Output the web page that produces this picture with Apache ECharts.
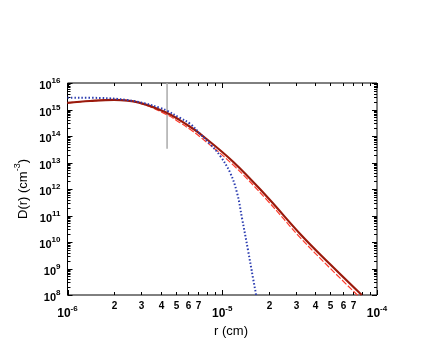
<!DOCTYPE html>
<html>
<head>
<meta charset="utf-8">
<script src="https://cdn.jsdelivr.net/npm/echarts@6.0.0/dist/echarts.min.js"></script>
<style>
  html, body { margin: 0; padding: 0; background: #fff; }
  #main { width: 448px; height: 346px; }
</style>
</head>
<body>
<div id="main"></div>
<script>
// 半径 r (cm) 与 D(r) (cm^-3)
const rSolid = [1e-6, 1.4e-6, 2.0e-6, 2.9e-6, 4.4e-6, 5.34e-6, 6.19e-6, 7.19e-6, 1.175e-5, 1.94e-5, 3.21e-5, 4.98e-5, 7.97e-5]
const dSolid = [1.78e15, 2.09e15, 2.29e15, 1.82e15, 7.4e14, 3.9e14, 2.24e14, 1.21e14, 1.07e13, 5.2e11, 1.93e10, 1.44e9, 1.0e8]
// 细红虚线
const dThin = [1.78e15, 2.09e15, 2.29e15, 1.78e15, 6.3e14, 3.16e14, 1.78e14, 9.3e13, 8.1e12, 3.9e11, 1.41e10, 1.02e9, 6.9e7]
// 蓝色点线
const rDot = [1e-6, 1.62e-6, 2.42e-6, 3.17e-6, 3.96e-6, 4.4e-6, 5.34e-6, 6.19e-6, 7.19e-6, 8.34e-6, 9.68e-6, 1.123e-5, 1.246e-5, 1.343e-5, 1.468e-5, 1.581e-5, 1.654e-5, 1.72e-5]
const dDot = [2.8e15, 2.73e15, 2.29e15, 1.7e15, 1.15e15, 8.9e14, 4.8e14, 2.9e14, 1.21e14, 5.0e13, 1.8e13, 4.2e12, 7.2e11, 7.7e10, 4.8e9, 4.3e8, 1.0e8, 2e7]
// 灰色竖线
const rMark = [4.4e-6, 4.4e-6]
const dMark = [1e16, 3.3e13]
// 刻度
const xDecades = [-6, -5, -4]
const xMinorLabels = [2, 3, 4, 5, 6, 7]
const yDecades = [8, 9, 10, 11, 12, 13, 14, 15, 16]

const FONT = 'Liberation Sans, Arial, sans-serif'
const chart = echarts.init(document.getElementById('main'))

let lineSeries = (r, d, color, width, type, z) => ({
  type: 'line',
  data: r.map((v, i) => [v, d[i]]),
  symbol: 'none',
  smooth: 0.4,
  clip: true,
  z: z,
  lineStyle: { color: color, width: width, type: type }
})

let hiddenAxis = {
  axisLine: { show: false },
  axisTick: { show: false },
  axisLabel: { show: false },
  splitLine: { show: false }
}

chart.setOption({
  animation: false,
  grid: { left: 67.5, right: 71, top: 83, bottom: 51, show: true, borderColor: '#000', borderWidth: 1 },
  xAxis: Object.assign({ type: 'log', logBase: 10, min: 1e-6, max: 1e-4 }, hiddenAxis),
  yAxis: Object.assign({ type: 'log', logBase: 10, min: 1e8, max: 1e16 }, hiddenAxis),
  series: [
    Object.assign(lineSeries(rMark, dMark, '#aaaaaa', 1.5, 'solid', 1), { smooth: false }),
    lineSeries(rSolid, dThin, '#ff3b2b', 1.2, [6, 2], 2),
    lineSeries(rSolid, dSolid, '#9a1a0c', 2.2, 'solid', 3),
    lineSeries(rDot, dDot, '#2b3cb0', 2, [1.5, 2], 4)
  ]
})

// 刻度和标签
const ctx = document.createElement('canvas').getContext('2d')
let textW = (s, font) => { ctx.font = font; return ctx.measureText(s).width }
let px = v => chart.convertToPixel({ xAxisIndex: 0 }, v)
let py = v => chart.convertToPixel({ yAxisIndex: 0 }, v)
let gLeft = px(1e-6), gRight = px(1e-4), gTop = py(1e16), gBottom = py(1e8)
let g = []
let tick = (x1, y1, x2, y2) => g.push({
  type: 'line', silent: true,
  shape: { x1: x1, y1: y1, x2: x2, y2: y2 },
  style: { stroke: '#000', lineWidth: 1 }
})
let text = (s, x, y, size, align, weight) => g.push({
  type: 'text', silent: true,
  style: { text: s, x: x, y: y, font: (weight || 'bold') + ' ' + size + 'px ' + FONT, fill: '#000', align: align, verticalAlign: 'middle' }
})
// 10^n 标签
let supLabel = (exp, x, y, size, expSize, align) => {
  let w1 = textW('10', 'bold ' + size + 'px ' + FONT)
  let w2 = textW(exp, 'bold ' + expSize + 'px ' + FONT)
  let x0 = align == 'center' ? x - (w1 + w2) / 2 : x - w1 - w2
  text('10', x0, y, size, 'left')
  text(exp, x0 + w1, y - size * 0.45, expSize, 'left')
}

for (let e = -6; e <= -4; e++) {
  for (let k = 1; k <= 9; k++) {
    let v = k * Math.pow(10, e)
    if (v > 1.0001e-4) break
    let x = Math.round(px(v)) + 0.5
    let len = k == 1 ? 5 : 3
    tick(x, gBottom, x, gBottom - len)
    tick(x, gTop, x, gTop + len)
    if (xMinorLabels.indexOf(k) >= 0) text(String(k), x, gBottom + 11, 10, 'center')
  }
}
xDecades.forEach(e => supLabel(String(e), px(Math.pow(10, e)), gBottom + 19, 12, 8, 'center'))

for (let e = 8; e <= 16; e++) {
  for (let k = 1; k <= 9; k++) {
    let v = k * Math.pow(10, e)
    if (v > 1.0001e16) break
    let y = Math.round(py(v)) + 0.5
    let len = k == 1 ? 5 : 3
    tick(gLeft, y, gLeft + len, y)
    tick(gRight, y, gRight - len, y)
  }
}
yDecades.forEach(e => supLabel(String(e), gLeft - 7, py(Math.pow(10, e)) + 3, 11, 8, 'right'))

// 坐标轴名称
text('r (cm)', 231, 331, 13, 'center', 'normal')
let nameFont = 'normal 13px ' + FONT
let wA = textW('D(r) (cm', nameFont), wB = textW('-3', 'normal 9px ' + FONT), wC = textW(')', nameFont)
let nx0 = -(wA + wB + wC) / 2
g.push({
  type: 'group', x: 23, y: 189, rotation: Math.PI / 2, silent: true,
  children: [
    { type: 'text', style: { text: 'D(r) (cm', x: nx0, y: 0, font: nameFont, fill: '#000', verticalAlign: 'middle' } },
    { type: 'text', style: { text: '-3', x: nx0 + wA, y: -5, font: 'normal 9px ' + FONT, fill: '#000', verticalAlign: 'middle' } },
    { type: 'text', style: { text: ')', x: nx0 + wA + wB, y: 0, font: nameFont, fill: '#000', verticalAlign: 'middle' } }
  ]
})

chart.setOption({ graphic: g })
</script>
</body>
</html>
